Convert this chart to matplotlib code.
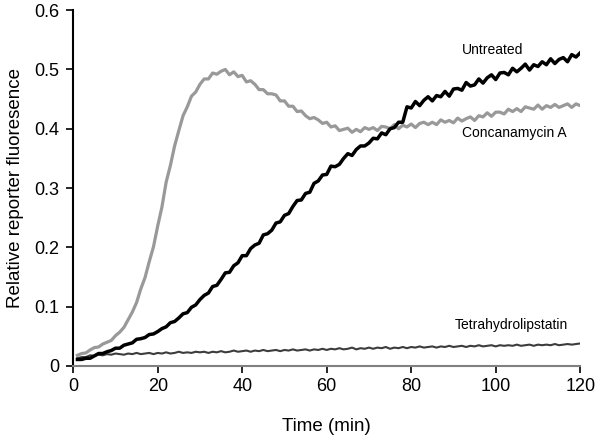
import matplotlib
matplotlib.use('Agg')
import matplotlib.pyplot as plt

plt.rcParams['font.family'] = ['Liberation Sans', 'DejaVu Sans']

# time in minutes, one reading per minute
time_min = list(range(1, 121))

untreated = [
    .011, .011, .013, .013, .017, .021, .021, .024, .026, .030,
    .030, .035, .037, .039, .045, .046, .048, .053, .054, .058,
    .063, .066, .073, .075, .081, .088, .090, .099, .103, .112,
    .119, .123, .134, .136, .146, .157, .158, .169, .174, .186,
    .186, .198, .204, .207, .221, .223, .229, .241, .243, .254,
    .257, .269, .279, .280, .291, .293, .308, .312, .322, .323,
    .337, .336, .340, .350, .358, .355, .365, .371, .371, .376,
    .384, .383, .393, .390, .400, .402, .411, .411, .437, .435,
    .446, .439, .448, .454, .447, .456, .454, .463, .455, .467,
    .468, .465, .478, .472, .474, .484, .477, .486, .491, .483,
    .494, .495, .491, .502, .496, .502, .509, .499, .508, .505,
    .513, .508, .518, .510, .517, .520, .513, .525, .521, .528,
]

concanamycin = [
    .018, .021, .022, .027, .031, .032, .037, .040, .043, .051,
    .057, .065, .078, .091, .107, .130, .149, .176, .201, .236,
    .268, .310, .338, .371, .397, .422, .437, .455, .462, .475,
    .484, .484, .494, .492, .497, .500, .491, .496, .488, .490,
    .479, .481, .475, .466, .466, .459, .459, .457, .447, .447,
    .438, .438, .429, .430, .422, .417, .419, .415, .409, .411,
    .403, .405, .397, .399, .401, .394, .399, .395, .402, .399,
    .402, .397, .404, .403, .400, .407, .400, .406, .403, .408,
    .402, .409, .411, .407, .411, .407, .415, .411, .414, .410,
    .418, .413, .417, .420, .414, .422, .420, .427, .421, .428,
    .428, .425, .433, .429, .434, .429, .437, .435, .433, .440,
    .433, .439, .436, .441, .436, .439, .442, .436, .442, .439,
]

tetrahydrolipstatin = [
    .013, .015, .015, .018, .017, .019, .018, .020, .019, .021,
    .020, .019, .021, .020, .022, .020, .021, .022, .020, .022,
    .021, .023, .021, .022, .024, .022, .023, .022, .024, .023,
    .024, .022, .024, .023, .025, .023, .024, .026, .024, .025,
    .026, .024, .026, .025, .027, .025, .026, .027, .025, .027,
    .026, .028, .026, .027, .028, .026, .028, .027, .029, .027,
    .029, .028, .030, .028, .029, .031, .028, .030, .029, .031,
    .029, .031, .030, .032, .029, .031, .030, .032, .030, .032,
    .031, .033, .031, .032, .033, .031, .033, .032, .034, .032,
    .033, .034, .032, .034, .033, .035, .033, .034, .035, .033,
    .035, .034, .035, .034, .036, .034, .035, .036, .034, .036,
    .035, .036, .035, .037, .035, .036, .037, .036, .037, .038,
]

fig = plt.figure(figsize=(6, 4.42), dpi=100)
ax = fig.add_axes([0.122, 0.172, 0.845, 0.805])

ax.plot(time_min, tetrahydrolipstatin, color='#3c3c3c', lw=1.5)
ax.plot(time_min, concanamycin, color='#999999', lw=2.3)
ax.plot(time_min, untreated, color='black', lw=2.5)

ax.text(92, 0.533, 'Untreated', fontsize=10, va='center')
ax.text(92, 0.393, 'Concanamycin A', fontsize=10, va='center')
ax.text(90.3, 0.069, 'Tetrahydrolipstatin', fontsize=10, va='center')

ax.set_xlim(0, 120)
ax.set_ylim(0, 0.6)
ax.set_xticks([0, 20, 40, 60, 80, 100, 120])
ax.set_yticks([0, 0.1, 0.2, 0.3, 0.4, 0.5, 0.6])
ax.set_yticklabels(['0', '0.1', '0.2', '0.3', '0.4', '0.5', '0.6'])
ax.tick_params(labelsize=13, length=5, width=1.2)
ax.tick_params(axis='y', pad=5)
ax.set_xlabel('Time (min)', fontsize=13.5, labelpad=17)
ax.set_ylabel('Relative reporter fluoresence', fontsize=13.5, labelpad=7)

ax.spines['top'].set_visible(False)
ax.spines['right'].set_visible(False)
ax.spines['left'].set_linewidth(1.5)
ax.spines['bottom'].set_linewidth(1.5)
ax.spines['bottom'].set_color('#808080')

fig.savefig('out.png', dpi=100)
